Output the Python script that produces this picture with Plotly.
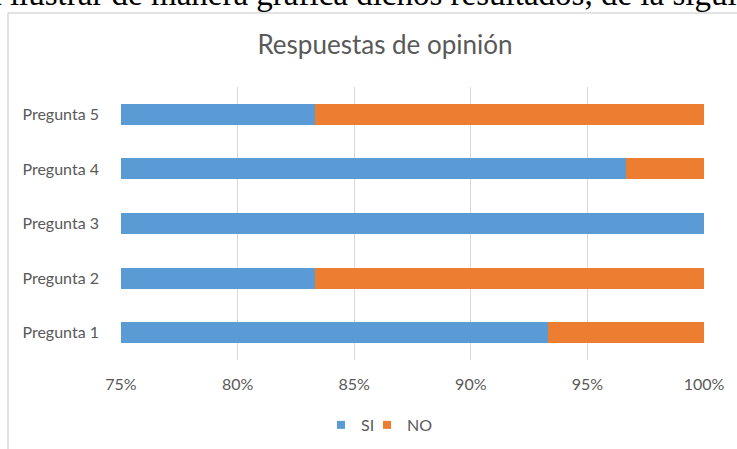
import plotly.graph_objects as go

categories = ["Pregunta 1", "Pregunta 2", "Pregunta 3", "Pregunta 4", "Pregunta 5"]
si_values = [0.9333, 0.8333, 1.0, 0.9667, 0.8333]
no_values = [0.0667, 0.1667, 0.0, 0.0333, 0.1667]
x_tickvals = [0.75, 0.80, 0.85, 0.90, 0.95, 1.00]
x_ticktext = ["75%", "80%", "85%", "90%", "95%", "100%"]

W, H = 737, 449
L, R, T, B = 121, 33, 87, 89
pw, ph = W - L - R, H - T - B

def px_x(x):
    return (x - L) / pw

def px_y(y):
    return (H - B - y) / ph

FONT = "Lato"
GRAY = "#595959"
BLUE = "#5B9BD5"
ORANGE = "#ED7D31"

fig = go.Figure()
fig.add_trace(go.Bar(y=categories, x=si_values, name="SI", orientation="h",
                     marker=dict(color=BLUE, line=dict(width=0)), showlegend=False))
fig.add_trace(go.Bar(y=categories, x=no_values, name="NO", orientation="h",
                     marker=dict(color=ORANGE, line=dict(width=0)), showlegend=False))
# legend entries with small square markers, one legend box each
for name, col, lg in [("SI", BLUE, "legend"), ("NO", ORANGE, "legend2")]:
    fig.add_trace(go.Scatter(x=[None], y=[None], mode="markers", name=name, legend=lg,
                             marker=dict(symbol="square", size=8, color=col)))

legend_common = dict(orientation="h", yanchor="middle", xanchor="left",
                     y=px_y(425), font=dict(size=16, color=GRAY), itemwidth=30,
                     bgcolor="rgba(0,0,0,0)")

fig.update_layout(
    width=W, height=H,
    margin=dict(l=L, r=R, t=T, b=B, autoexpand=False),
    barmode="stack",
    bargap=0.615,
    paper_bgcolor="white",
    plot_bgcolor="white",
    font=dict(family=FONT, color=GRAY, size=16),
    title=dict(text="Respuestas de opinión", x=385 / W, xref="container",
               xanchor="center", y=1 - 45 / H, yref="container", yanchor="middle",
               font=dict(family=FONT, size=26, color=GRAY)),
    xaxis=dict(range=[0.75, 1.0], tickvals=x_tickvals, ticktext=x_ticktext,
               showgrid=True, gridcolor="#D9D9D9", gridwidth=1,
               zeroline=False, showline=False, ticks="",
               ticklabelstandoff=13, tickfont=dict(size=16, color=GRAY)),
    yaxis=dict(showgrid=False, zeroline=False, showline=False, ticks="",
               ticklabelstandoff=21, tickfont=dict(size=16, color=GRAY)),
    legend=dict(x=px_x(321), **legend_common),
    legend2=dict(x=px_x(367), **legend_common),
    showlegend=True,
)

fig.add_annotation(text="a ilustrar de manera gráfica dichos resultados, de la siguiente manera",
                   xref="paper", yref="paper", x=px_x(-15), y=px_y(14),
                   xanchor="left", yanchor="bottom", showarrow=False,
                   font=dict(family="Liberation Serif", size=33, color="black"))

fig.add_shape(type="line", xref="paper", yref="paper",
              x0=px_x(8), x1=px_x(740), y0=px_y(13), y1=px_y(13),
              line=dict(color="#D9D9D9", width=1.5))
fig.add_shape(type="line", xref="paper", yref="paper",
              x0=px_x(8), x1=px_x(8), y0=px_y(13), y1=px_y(452),
              line=dict(color="#D9D9D9", width=1.5))

fig.write_html("out.html", config={"displayModeBar": False},
               post_script="document.body.style.margin='0';")
